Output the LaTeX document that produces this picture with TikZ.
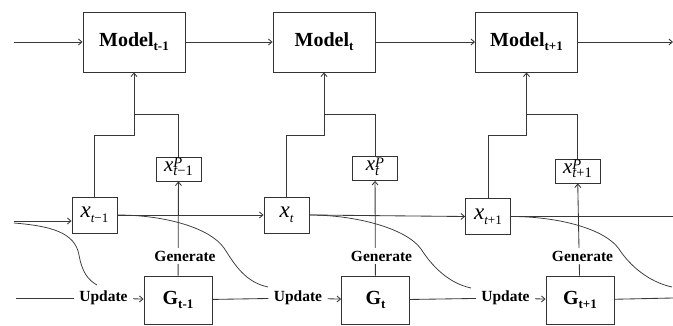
\documentclass[tikz,border=0pt]{standalone}
\usepackage{fontspec}
\setmainfont{Liberation Serif}
\usetikzlibrary{arrows.meta}
\newcommand{\bigb}[2]{{\fontsize{20}{20}\selectfont\bfseries #1}{\fontsize{13}{13}\selectfont\bfseries\raisebox{-4pt}{#2}}}
\newcommand{\xlab}[1]{{\fontsize{23}{23}\selectfont\itshape x}{\fontsize{13}{13}\selectfont\raisebox{-5pt}{#1}}}
\newcommand{\plab}[1]{{\fontsize{21}{21}\selectfont\itshape x}\raisebox{-4.5pt}{\fontsize{14.5}{14.5}\selectfont\begin{tabular}[b]{@{}l@{}}\itshape P\\[-6.5pt]#1\end{tabular}}}
\begin{document}
\begin{tikzpicture}[x=1pt,y=-1pt,
  line width=0.85pt,
  color=black!78,
  arr/.style={-{Straight Barb[length=3.5pt,width=6pt]}},
  bx/.style={draw=black!80,line width=0.85pt,inner sep=0pt,fill=white,text=black},
  modelbox/.style={bx,minimum width=102pt,minimum height=60pt},
  xbox/.style={bx,minimum width=45pt,minimum height=36pt},
  pbox/.style={bx,minimum width=45pt,minimum height=24pt},
  gbox/.style={bx,minimum width=68pt,minimum height=48pt},
  curve/.style={line width=0.75pt},
  lbl/.style={fill=white,inner xsep=5pt,inner ysep=3pt,font=\fontsize{15.5}{16}\selectfont\bfseries,text=black}]
\useasboundingbox (0,0) rectangle (673,326);
% models
\node[modelbox] (m1) at (134,42) {\bigb{Model}{t-1}};
\node[modelbox] (m2) at (324,42) {\bigb{Model}{t}};
\node[modelbox] (m3) at (526.5,42) {\bigb{Model}{t+1}};
% x boxes
\node[xbox] (x1) at (94.5,215) {\xlab{\itshape t\upshape−1}};
\node[xbox] (x2) at (286.5,215) {\xlab{\itshape t}};
\node[xbox] (x3) at (488,216.5) {\xlab{\itshape t\upshape+1}};
% predicted boxes
\node[pbox] (p1) at (178.5,169) {\plab{\itshape t\upshape−1}};
\node[pbox] (p2) at (375,168.5) {\plab{\itshape t}};
\node[pbox] (p3) at (577.5,171) {\plab{\itshape t\upshape+1}};
% generators
\node[gbox] (g1) at (178,300) {\bigb{G}{t-1}};
\node[gbox] (g2) at (375.5,300) {\bigb{G}{t}};
\node[gbox] (g3) at (580,300) {\bigb{G}{t+1}};
% free ends
\coordinate (tl) at (14,42);
\coordinate (tr) at (673,42);
\coordinate (xl) at (14,221);
\coordinate (xr) at (673,216.5);
\coordinate (ul) at (16,298);
\coordinate (ur) at (673,298);
\coordinate (c0) at (14,223);
\coordinate (k0) at (79,255);
\coordinate (c1) at (97,285);
\coordinate (k1) at (224,248);
\coordinate (c2) at (268,287);
\coordinate (k2) at (421,249);
\coordinate (c3) at (471,288);
\coordinate (k3) at (619,249);
\coordinate (c4) at (672,287);
% top chain
\draw[arr] (tl) -- (m1);
\draw[arr] (m1) -- (m2);
\draw[arr] (m2) -- (m3);
\draw[arr] (m3) -- (tr);
% x chain
\draw[arr] (xl) -- (x1.west |- xl);
\draw[arr] (x1) -- (x2);
\draw[arr] (x2.east) -- (x3.west);
\draw (x3) -- (xr);
% curves
\begin{scope}
\clip (0,0) rectangle (673,326);
\draw[curve] (c0) .. controls +(36,3) and +(-4,-23) .. (k0) .. controls +(3,17) and +(-9,-5) .. (c1);
\draw[curve] (x1.east) .. controls +(48,0) and +(-14,-20) .. (k1) .. controls +(11,17) and +(-23,-5) .. (c2);
\draw[curve] (x2.east) .. controls +(48,0) and +(-14,-20) .. (k2) .. controls +(11,17) and +(-23,-5) .. (c3);
\draw[curve] (x3.east) .. controls +(48,0) and +(-14,-20) .. (k3) .. controls +(11,17) and +(-23,-5) .. (c4);
\end{scope}
% model inputs
\draw[arr] (x1.north) -- (x1.north |- 0,135) -| (m1.south);
\draw (p1.north) |- (m1.south |- 0,114);
\draw[arr] (x2.north) -- (x2.north |- 0,135) -| (m2.south);
\draw (p2.north) |- (m2.south |- 0,114);
\draw[arr] (x3.north) -- (x3.north |- 0,135) -| (m3.south);
\draw (p3.north) |- (m3.south |- 0,114);
% generate
\draw[arr] (g1) -- (p1);
\draw[arr] (g2) -- (p2);
\draw[arr] (g3) -- (p3);
\node[lbl] (gen1) at (185,256) {Generate};
\node[lbl] (gen2) at (381.5,256) {Generate};
\node[lbl] (gen3) at (582.5,256) {Generate};
% update
\node[lbl] (u1) at (103.5,298) {Update};
\node[lbl] (u2) at (298,298) {Update};
\node[lbl] (u3) at (505.5,298) {Update};
\draw (ul) -- (u1);
\draw[arr] (u1) -- (g1);
\draw (g1) -- (u2);
\draw[arr] (u2) -- (g2);
\draw (g2) -- (u3);
\draw[arr] (u3) -- (g3);
\draw (g3) -- (ur);
\end{tikzpicture}
\end{document}
